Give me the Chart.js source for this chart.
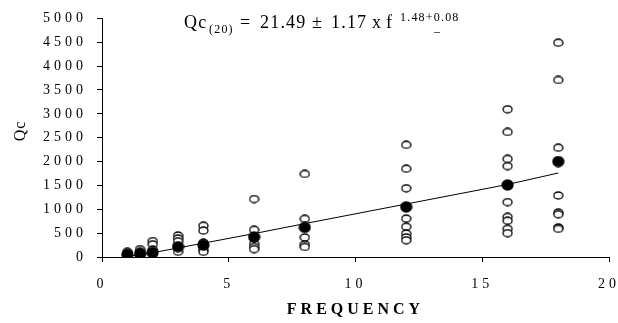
<!DOCTYPE html>
<html>
<head>
<meta charset="utf-8">
<script src="https://cdn.jsdelivr.net/npm/chart.js@4/dist/chart.umd.min.js"></script>
<style>
  html,body{margin:0;padding:0;background:#fff;}
  canvas{display:block;}
</style>
</head>
<body>
<canvas id="qc-chart" width="618" height="323"></canvas>
<script>
// frequency groups
const frequencies = [1, 1.5, 2, 3, 4, 6, 8, 12, 16, 18];
// filled dots (group means)
const meanQc = [50, 70, 95, 215, 250, 420, 620, 1050, 1510, 2000];
// trend line through the fit
const fitQc = [10, 50, 90, 190, 290, 490, 700, 1110, 1520, 1760];
// open circles, one list per frequency
const sampleQc = [
  [110, 70, 30],
  [165, 110, 40],
  [335, 265, 150, 60],
  [450, 390, 330, 110],
  [655, 553, 300, 150, 110],
  [1215, 570, 280, 210, 165],
  [1740, 800, 410, 265, 210],
  [2350, 1850, 1440, 805, 635, 490, 410, 350],
  [3095, 2620, 2055, 1905, 1150, 840, 760, 590, 500],
  [4490, 3710, 2290, 1290, 930, 895, 620, 590]
];
const xTicks = [0, 5, 10, 15, 20];
const yTicks = [0, 500, 1000, 1500, 2000, 2500, 3000, 3500, 4000, 4500, 5000];

const SERIF = "'Liberation Serif','Times New Roman',serif";

function ellipse(w, h, filled){
  const c = document.createElement("canvas");
  c.width = w + 2; c.height = h + 2;
  const g = c.getContext("2d");
  g.beginPath();
  g.ellipse((w + 2) / 2, (h + 2) / 2, w / 2, h / 2, 0, 0, Math.PI * 2);
  g.fillStyle = filled ? "#000" : "#fff";
  g.fill();
  g.lineWidth = 1.3;
  g.strokeStyle = "#000";
  g.stroke();
  return c;
}

const openPts = [];
sampleQc.forEach((list, i) => list.forEach(v => openPts.push({x: frequencies[i], y: v})));
const meanPts = frequencies.map((f, i) => ({x: f, y: meanQc[i]}));
const fitPts = frequencies.map((f, i) => ({x: f, y: fitQc[i]}));

// wide glyph spacing like the scanned chart, the y title and the fitted equation
const spacing = {
  id: "spacing",
  beforeDraw(chart){ chart.ctx.letterSpacing = "4px"; },
  afterDraw(chart){
    const ctx = chart.ctx;
    ctx.save();
    ctx.letterSpacing = "1px";
    ctx.fillStyle = "#000";
    ctx.textAlign = "center";
    ctx.textBaseline = "middle";
    ctx.font = "16px " + SERIF;
    ctx.translate(21, 131);
    ctx.rotate(-Math.PI / 2);
    ctx.fillText("Qc", 0, 0);
    ctx.restore();

    ctx.save();
    ctx.letterSpacing = "1.2px";
    ctx.fillStyle = "#000";
    ctx.textBaseline = "alphabetic";
    ctx.textAlign = "left";
    const big = "18px " + SERIF, small = "12px " + SERIF;
    const put = (t, x, y, f) => { ctx.font = f; ctx.fillText(t, x, y); };
    put("Qc", 184, 28, big);
    put("(20)", 209, 33, small);
    put("=", 240, 28, big);
    put("21.49", 260, 28, big);
    put("±", 312, 28, big);
    put("1.17", 331, 28, big);
    put("x", 372, 28, big);
    put("f", 386, 28, big);
    put("1.48+0.08", 400, 21, small);
    put("–", 434, 35, small);
    ctx.restore();
    ctx.letterSpacing = "0px";
  }
};

new Chart(document.getElementById("qc-chart"), {
  data: {
    datasets: [
      {type: "scatter", label: "Trend", data: fitPts, showLine: true, borderColor: "#000",
       borderWidth: 1, pointRadius: 0, fill: false, order: 3},
      {type: "scatter", label: "Qc", data: openPts, pointStyle: ellipse(9, 7, false), order: 2},
      {type: "scatter", label: "Mean", data: meanPts, pointStyle: ellipse(11, 10, true), order: 1}
    ]
  },
  options: {
    responsive: false,
    animation: false,
    events: [],
    layout: {padding: {top: 13, right: 9, bottom: 0, left: 0}},
    plugins: {legend: {display: false}, tooltip: {enabled: false}},
    scales: {
      x: {
        type: "linear", min: 0, max: 20,
        afterBuildTicks: s => { s.ticks = xTicks.map(v => ({value: v})); },
        afterFit: s => { s.height = 66; s.paddingLeft = 0; s.paddingRight = 0; },
        border: {display: true, color: "#000", width: 1},
        grid: {drawOnChartArea: false, drawTicks: true, tickLength: 5, color: "#000"},
        ticks: {color: "#000", font: {family: SERIF, size: 14}, padding: 14, maxRotation: 0,
                autoSkip: false, callback: v => String(v)},
        title: {display: true, text: "FREQUENCY", color: "#000",
                font: {family: SERIF, size: 16, weight: "bold"}, padding: {top: 0, bottom: 4}}
      },
      y: {
        type: "linear", min: 0, max: 5000,
        afterBuildTicks: s => { s.ticks = yTicks.map(v => ({value: v})); },
        afterFit: s => { s.width = 102; },
        border: {display: true, color: "#000", width: 1},
        grid: {drawOnChartArea: false, drawTicks: true, tickLength: 5, color: "#000"},
        ticks: {color: "#000", font: {family: SERIF, size: 14}, padding: 10, callback: v => String(v)},
        title: {display: false}
      }
    }
  },
  plugins: [spacing]
});
</script>
</body>
</html>
